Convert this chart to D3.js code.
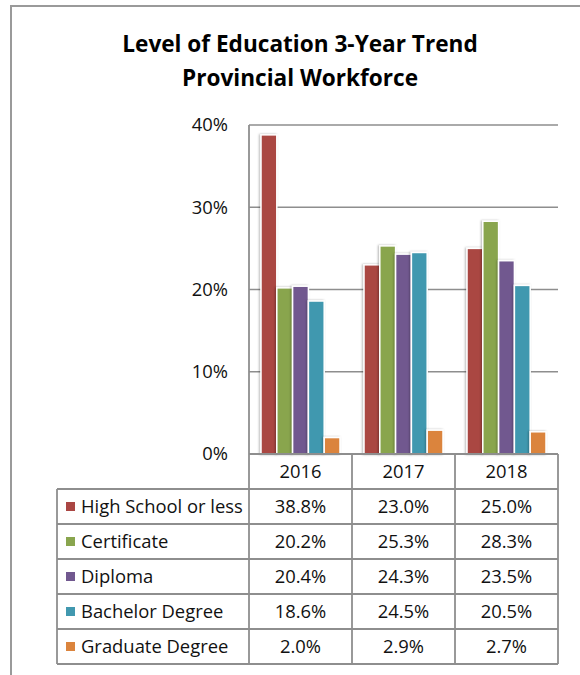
<!DOCTYPE html>
<html>
<head>
<meta charset="utf-8">
<script src="https://cdn.jsdelivr.net/npm/d3@7"></script>
<style>
    body { margin: 0; background: #fff; }
    svg { display: block; font-family: "Open Sans", "Noto Sans", sans-serif; }
</style>
</head>
<body>
<svg id="chart" width="580" height="675"></svg>
<script>

var years = ["2016", "2017", "2018"];
var levels = ["High School or less", "Certificate", "Diploma", "Bachelor Degree", "Graduate Degree"];
var colors = ["#AA4643", "#89A54E", "#71588F", "#4198AF", "#DB843D"];

// one array per education level, values in % for 2016, 2017, 2018
var highSchool = [38.8, 23.0, 25.0];
var certificate = [20.2, 25.3, 28.3];
var diploma = [20.4, 24.3, 23.5];
var bachelor = [18.6, 24.5, 20.5];
var graduate = [2.0, 2.9, 2.7];
var seriesValues = [highSchool, certificate, diploma, bachelor, graduate];

var yTicks = [0, 10, 20, 30, 40];
var titleLines = ["Level of Education 3-Year Trend", "Provincial Workforce"];


var svg = d3.select("#chart");
var lineColor = "#8e8e8e";
var textSize = 18.4;

let plotLeft = 249, plotRight = 558, plotTop = 125, plotBottom = 454;
let rowH = 35, tableLeft = 57;

// outer frame (runs off the right and bottom of the picture)
svg.append("rect")
    .attr("x", 11)
    .attr("y", 6)
    .attr("width", 600)
    .attr("height", 700)
    .attr("fill", "none")
    .attr("stroke", "#9a9a9a")
    .attr("stroke-width", 2);

svg.selectAll(".title")
    .data(titleLines)
    .enter().append("text")
    .attr("class", "title")
    .attr("x", 300)
    .attr("y", (d, i) => 52 + i * 34)
    .attr("text-anchor", "middle")
    .attr("font-size", 22.6)
    .attr("font-weight", "bold")
    .text(d => d);

var y = d3.scaleLinear().domain([0, 40]).range([plotBottom, plotTop]);
var x0 = d3.scaleBand().domain(years).range([plotLeft, plotRight]);
var x1 = d3.scaleBand().domain(levels).range([0, x0.bandwidth()]).paddingOuter(0.76);

// gridlines
svg.selectAll(".grid")
    .data(yTicks.filter(d => d > 0))
    .enter().append("line")
    .attr("class", "grid")
    .attr("x1", plotLeft)
    .attr("x2", plotRight)
    .attr("y1", d => y(d))
    .attr("y2", d => y(d))
    .attr("stroke", lineColor)
    .attr("stroke-width", 1.6);

var yAxis = svg.append("g")
    .attr("transform", "translate(" + (plotLeft - 21) + ",0)")
    .call(d3.axisLeft(y).tickValues(yTicks).tickSize(0).tickPadding(0).tickFormat(d => d + "%"));
yAxis.select(".domain").remove();
yAxis.selectAll("text")
    .attr("font-family", "Open Sans")
    .attr("font-size", textSize)
    .attr("fill", "#111");

var defs = svg.append("defs");
defs.append("filter")
    .attr("id", "shadow")
    .attr("x", "-30%").attr("y", "-10%").attr("width", "160%").attr("height", "120%")
    .append("feDropShadow")
    .attr("dx", -1)
    .attr("dy", 0)
    .attr("stdDeviation", 0.8)
    .attr("flood-color", "#000")
    .attr("flood-opacity", 0.3);

// bars
var groups = svg.selectAll(".year")
    .data(years)
    .enter().append("g")
    .attr("class", "year")
    .attr("transform", d => "translate(" + x0(d) + ",0)");

groups.selectAll("rect")
    .data((d, j) => levels.map((lev, i) => ({ level: lev, value: seriesValues[i][j], color: colors[i] })))
    .enter().append("rect")
    .attr("x", d => x1(d.level))
    .attr("width", x1.bandwidth())
    .attr("y", d => y(d.value))
    .attr("height", d => y(0) - y(d.value))
    .attr("fill", d => d.color)
    .attr("stroke", "#fff")
    .attr("stroke-width", 1.5)
    .attr("filter", "url(#shadow)");

// data table
var table = svg.append("g").attr("class", "table");

// horizontal lines
table.append("line")
    .attr("x1", plotLeft).attr("x2", plotRight)
    .attr("y1", plotBottom).attr("y2", plotBottom)
    .attr("stroke", lineColor).attr("stroke-width", 1.8);

table.selectAll(".hrow")
    .data(d3.range(levels.length + 1))
    .enter().append("line")
    .attr("class", "hrow")
    .attr("x1", tableLeft).attr("x2", plotRight)
    .attr("y1", d => plotBottom + rowH * (d + 1))
    .attr("y2", d => plotBottom + rowH * (d + 1))
    .attr("stroke", lineColor).attr("stroke-width", 1.8);

// vertical lines
table.append("line")
    .attr("x1", tableLeft).attr("x2", tableLeft)
    .attr("y1", plotBottom + rowH).attr("y2", plotBottom + rowH * (levels.length + 1))
    .attr("stroke", lineColor).attr("stroke-width", 1.8);

table.selectAll(".vcol")
    .data(years.map(d => x0(d)).concat([plotRight]))
    .enter().append("line")
    .attr("class", "vcol")
    .attr("x1", d => d).attr("x2", d => d)
    .attr("y1", plotBottom).attr("y2", plotBottom + rowH * (levels.length + 1))
    .attr("stroke", lineColor).attr("stroke-width", 1.8);

// y axis line over the plot
svg.append("line")
    .attr("x1", plotLeft).attr("x2", plotLeft)
    .attr("y1", plotTop).attr("y2", plotBottom)
    .attr("stroke", lineColor).attr("stroke-width", 1.8);

// year header
table.selectAll(".yearLabel")
    .data(years)
    .enter().append("text")
    .attr("class", "yearLabel")
    .attr("x", d => x0(d) + x0.bandwidth() / 2)
    .attr("y", plotBottom + rowH / 2)
    .attr("dy", "0.35em")
    .attr("text-anchor", "middle")
    .attr("font-size", textSize)
    .attr("fill", "#111")
    .text(d => d);

// legend rows
var rows = table.selectAll(".row")
    .data(levels)
    .enter().append("g")
    .attr("class", "row")
    .attr("transform", (d, i) => "translate(0," + (plotBottom + rowH * (i + 1) + rowH / 2) + ")");

rows.append("rect")
    .attr("x", 66)
    .attr("y", -4.5)
    .attr("width", 9)
    .attr("height", 9)
    .attr("fill", (d, i) => colors[i]);

rows.append("text")
    .attr("x", 81)
    .attr("dy", "0.35em")
    .attr("font-size", textSize)
    .attr("fill", "#111")
    .text(d => d);

rows.selectAll(".cell")
    .data((d, i) => seriesValues[i])
    .enter().append("text")
    .attr("class", "cell")
    .attr("x", (d, j) => x0(years[j]) + x0.bandwidth() / 2)
    .attr("dy", "0.35em")
    .attr("text-anchor", "middle")
    .attr("font-size", textSize)
    .attr("fill", "#111")
    .text(d => d.toFixed(1) + "%");

</script>
</body>
</html>
